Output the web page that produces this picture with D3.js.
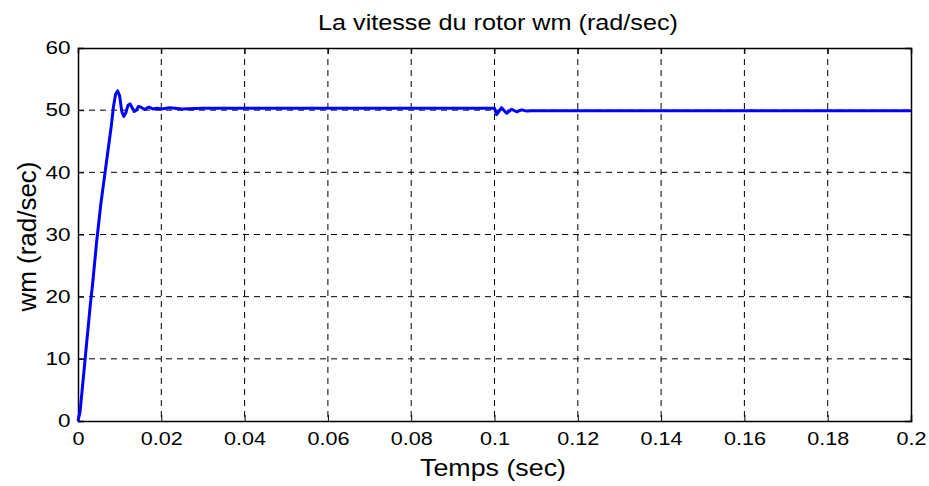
<!DOCTYPE html>
<html lang="fr">
<head>
<meta charset="UTF-8">
<title>La vitesse du rotor</title>
<script src="https://d3js.org/d3.v7.min.js"></script>
<style>
  body { margin: 0; background: #fff; }
  text { font-family: "Liberation Sans", Arial, sans-serif; }
</style>
</head>
<body>
<script>
// temps (sec)
var temps = [0, 0.0005, 0.001, 0.0015, 0.002, 0.0025, 0.003, 0.0035, 0.004, 0.0045,
  0.005, 0.0055, 0.006, 0.0065, 0.007, 0.0075, 0.008, 0.0085, 0.009, 0.0095,
  0.01, 0.0105, 0.011, 0.0115, 0.012, 0.0125, 0.013, 0.0135, 0.014, 0.0145,
  0.015, 0.016, 0.017, 0.018, 0.019, 0.02, 0.022, 0.025, 0.03, 0.04, 0.05,
  0.06, 0.07, 0.08, 0.09, 0.1, 0.1005, 0.1017, 0.1029, 0.1041, 0.1053, 0.1065,
  0.1077, 0.109, 0.12, 0.14, 0.16, 0.18, 0.2];
// wm (rad/sec)
var wm = [0, 1.5, 5, 8.5, 12, 15.5, 19, 22, 25.5, 29,
  32, 35, 37.5, 40, 42.5, 45, 47.5, 50.5, 52.5, 53.1,
  52.3, 49.8, 49.0, 49.6, 50.8, 51.0, 50.4, 49.8, 50.0, 50.6,
  50.5, 50.1, 50.5, 50.2, 50.3, 50.2, 50.4, 50.2, 50.3, 50.3, 50.3,
  50.3, 50.3, 50.3, 50.3, 50.3, 49.3, 50.4, 49.5, 50.15, 49.75, 50.05,
  49.85, 49.9, 49.9, 49.9, 49.9, 49.9, 49.9];

var xTicks = [0, 0.02, 0.04, 0.06, 0.08, 0.1, 0.12, 0.14, 0.16, 0.18, 0.2];
var yTicks = [0, 10, 20, 30, 40, 50, 60];

var W = 929, H = 486;
var m = {left: 78, right: 18, top: 48, bottom: 65};
var w = W - m.left - m.right, h = H - m.top - m.bottom;

var svg = d3.select("body").append("svg").attr("width", W).attr("height", H);
var g = svg.append("g").attr("transform", "translate(" + m.left + "," + m.top + ")");

var x = d3.scaleLinear().domain([0, 0.2]).range([0, w]);
var y = d3.scaleLinear().domain([0, 60]).range([h, 0]);

// grid
g.selectAll(".gx").data(xTicks.slice(1, -1)).enter().append("line")
  .attr("x1", function(d){ return x(d); }).attr("x2", function(d){ return x(d); })
  .attr("y1", 0).attr("y2", h)
  .attr("stroke", "#000").attr("stroke-width", 1).attr("stroke-dasharray", "6,5");
g.selectAll(".gy").data(yTicks.slice(1, -1)).enter().append("line")
  .attr("y1", function(d){ return y(d); }).attr("y2", function(d){ return y(d); })
  .attr("x1", 0).attr("x2", w)
  .attr("stroke", "#000").attr("stroke-width", 1).attr("stroke-dasharray", "6,5");

// axes
var fmt = function(d){ return d3.format("")(+d.toFixed(2)); };
var xAxis = g.append("g").attr("transform", "translate(0," + h + ")")
  .call(d3.axisBottom(x).tickValues(xTicks).tickSize(-6).tickPadding(11).tickFormat(fmt));
var yAxis = g.append("g")
  .call(d3.axisLeft(y).tickValues(yTicks).tickSize(-6).tickPadding(6));
g.append("g").call(d3.axisTop(x).tickValues(xTicks).tickSize(-6).tickFormat(""));
g.append("g").attr("transform", "translate(" + w + ",0)")
  .call(d3.axisRight(y).tickValues(yTicks).tickSize(-6).tickFormat(""));
g.selectAll(".domain").attr("stroke", "#000").attr("stroke-width", 1.5);
g.selectAll(".tick line").attr("stroke", "#000");
xAxis.selectAll("text").attr("font-size", 18).attr("fill", "#000")
  .attr("font-family", "Liberation Sans, Arial, sans-serif")
  .attr("transform", "scale(1.2,1)");
yAxis.selectAll("text").attr("font-size", 18).attr("fill", "#000")
  .attr("font-family", "Liberation Sans, Arial, sans-serif")
  .attr("x", -6).attr("transform", "scale(1.25,1)");

// line
var line = d3.line().x(function(d){ return x(d[0]); }).y(function(d){ return y(d[1]); });
g.append("path").datum(d3.zip(temps, wm))
  .attr("d", line).attr("fill", "none")
  .attr("stroke", "#0000ff").attr("stroke-width", 3).attr("stroke-linejoin", "round");

// labels
svg.append("text").attr("x", 498).attr("y", 29.5)
  .attr("text-anchor", "middle").attr("font-size", 22)
  .attr("textLength", 360).attr("lengthAdjust", "spacingAndGlyphs")
  .text("La vitesse du rotor wm (rad/sec)");
svg.append("text").attr("x", 493).attr("y", 476)
  .attr("text-anchor", "middle").attr("font-size", 24)
  .attr("textLength", 146).attr("lengthAdjust", "spacingAndGlyphs")
  .text("Temps (sec)");
svg.append("text").attr("transform", "translate(36," + (m.top + h / 2 + 2) + ") rotate(-90)")
  .attr("text-anchor", "middle").attr("font-size", 26)
  .attr("textLength", 150).attr("lengthAdjust", "spacingAndGlyphs")
  .text("wm (rad/sec)");
</script>
</body>
</html>
